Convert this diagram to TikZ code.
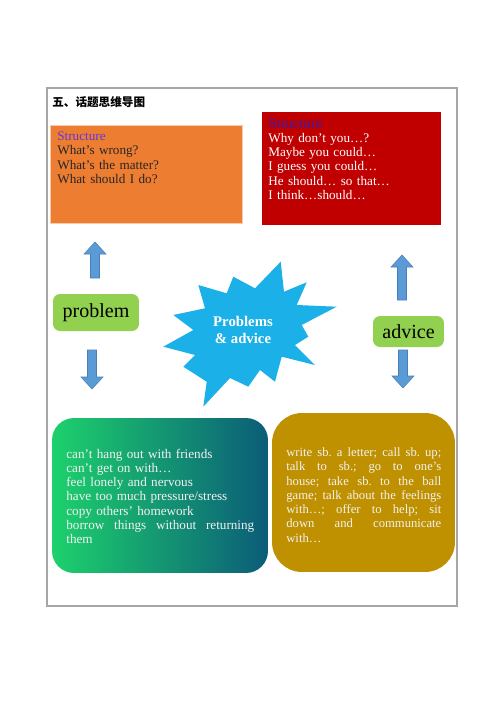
\documentclass[tikz,border=0pt]{standalone}
\usepackage{fontspec}
\setmainfont{Liberation Serif}
\newfontfamily\cjk{Noto Sans CJK SC}
\frenchspacing

\definecolor{frameGray}{HTML}{A6A6A6}
\definecolor{askOrange}{HTML}{ED7D31}
\definecolor{askEdge}{HTML}{F8CBAD}
\definecolor{giveRed}{HTML}{C00000}
\definecolor{structA}{HTML}{6236D8}
\definecolor{structB}{HTML}{3C1CA8}
\definecolor{darkText}{HTML}{262626}
\definecolor{tagGreen}{HTML}{92D050}
\definecolor{arrowBlue}{HTML}{5B9BD5}
\definecolor{arrowEdge}{HTML}{4A7EBB}
\definecolor{burstBlue}{HTML}{1CB0E8}
\definecolor{probLeft}{HTML}{1DD16C}
\definecolor{probRight}{HTML}{0B5C78}
\definecolor{adviceGold}{HTML}{BF9000}
\definecolor{paleText}{HTML}{F2F2F2}

% one line spread to the full text width
\newcommand{\fullline}[1]{{\frenchspacing\spaceskip=0pt\xspaceskip=0pt\makebox[\hsize][s]{#1}}\\}

\begin{document}
\begin{tikzpicture}[x=0.02cm, y=-0.02cm,
  panel/.style={inner sep=0pt, outer sep=0pt},
  txt/.style={anchor=north west, inner sep=0pt, align=left,
              font=\fontsize{7.5}{8.1}\selectfont},
  tag/.style={fill=tagGreen, rounded corners=4pt, inner sep=0pt,
              font=\fontsize{11.4}{13}\selectfont},
  blk/.style={fill=arrowBlue, draw=arrowEdge, line width=0.3pt},
  burst/.style={fill=burstBlue, draw=none}
]
\useasboundingbox (0,0) rectangle (500,707);

% frame and title
\draw[frameGray, line width=0.6pt] (47,88) rectangle (457,606);
\node[anchor=west, inner sep=0pt, font=\cjk\bfseries\fontsize{6.6}{7}\selectfont] (title) at (52,102) {五、话题思维导图};

% structure boxes
\node[panel, fill=askOrange, draw=askEdge, line width=0.4pt,
      minimum width=3.84cm, minimum height=1.96cm] (askbox) at (146,174) {};
\node[panel, fill=giveRed, minimum width=3.58cm, minimum height=2.26cm] (givebox) at (351.5,168.5) {};

\node[txt, text width=3.6cm, text=darkText] (asktxt) at (57,131.5)
  {\textcolor{structA}{Structure}\\ What’s wrong?\\ What’s the matter?\\ What should I do?};
\node[txt, text width=3.4cm, text=white] (givetxt) at (268,118)
  {\textcolor{structB}{\fontsize{8.4}{8.1}\selectfont Structure}\\ Why don’t you…?\\ Maybe you could…\\ I guess you could…\\ He should… so that…\\ I think…should…};

% labels
\node[tag, minimum width=1.72cm, minimum height=0.74cm] (problem) at (96,312.5) {problem};
\node[tag, minimum width=1.42cm, minimum height=0.62cm] (advice) at (408.5,331.5) {advice};

% block arrows
\draw[blk] (95,242) -- ++(11,12) -- ++(-6.5,0) -- ++(0,24) -- ++(-9,0) -- ++(0,-24) -- ++(-6.5,0) -- cycle;
\draw[blk] (92,389) -- ++(11,-12) -- ++(-6.5,0) -- ++(0,-27) -- ++(-9,0) -- ++(0,27) -- ++(-6.5,0) -- cycle;
\draw[blk] (402,255) -- ++(11,12) -- ++(-6.5,0) -- ++(0,33) -- ++(-9,0) -- ++(0,-33) -- ++(-6.5,0) -- cycle;
\draw[blk] (403,388) -- ++(11,-12) -- ++(-6.5,0) -- ++(0,-26) -- ++(-9,0) -- ++(0,26) -- ++(-6.5,0) -- cycle;

% centre burst
\draw[burst] (280.7,261.7) -- (284,291.7) -- (306.7,282.3) -- (296.7,305) -- (336.7,306.7)
  -- (301.7,325) -- (308.3,336.7) -- (295,345) -- (315,365) -- (281.7,356.7) -- (275,381.7)
  -- (260,370) -- (248.3,386.7) -- (230,378) -- (203.3,406.7) -- (206.7,381.7) -- (183.3,366.7)
  -- (195,355) -- (163.3,346.7) -- (193.3,330) -- (173.3,315) -- (205,308.3) -- (198.3,285)
  -- (226.7,293.3) -- (233.3,276.7) -- (255,288.3) -- cycle;
\node[align=center, text=white, inner sep=0pt, font=\bfseries\fontsize{8.4}{9.6}\selectfont] (topic) at (243,330) {Problems\\ \& advice};

% bottom boxes
\node[panel, left color=probLeft, right color=probRight, rounded corners=0.44cm,
      minimum width=4.32cm, minimum height=3.1cm] (probbox) at (160,495.5) {};
\node[panel, fill=adviceGold, rounded corners=0.6cm,
      minimum width=3.66cm, minimum height=3.18cm] (advbox) at (363.5,492.5) {};

\node[txt, text width=3.76cm, text=paleText] (probtxt) at (66,448.5)
  {can’t hang out with friends\\ can’t get on with…\\ feel lonely and nervous\\
   have too much pressure/stress\\ copy others’ homework\\
   \fullline{borrow things without returning} them};
\node[txt, text width=3.1cm, text=paleText, font=\fontsize{7.2}{8.1}\selectfont] (advtxt) at (286,447.5)
  {\fullline{write sb. a letter; call sb. up;}
   \fullline{talk to sb.; go to one’s}
   \fullline{house; take sb. to the ball}
   \fullline{game; talk about the feelings}
   \fullline{with…; offer to help; sit}
   \fullline{down and communicate}
   with…};

\end{tikzpicture}
\end{document}
